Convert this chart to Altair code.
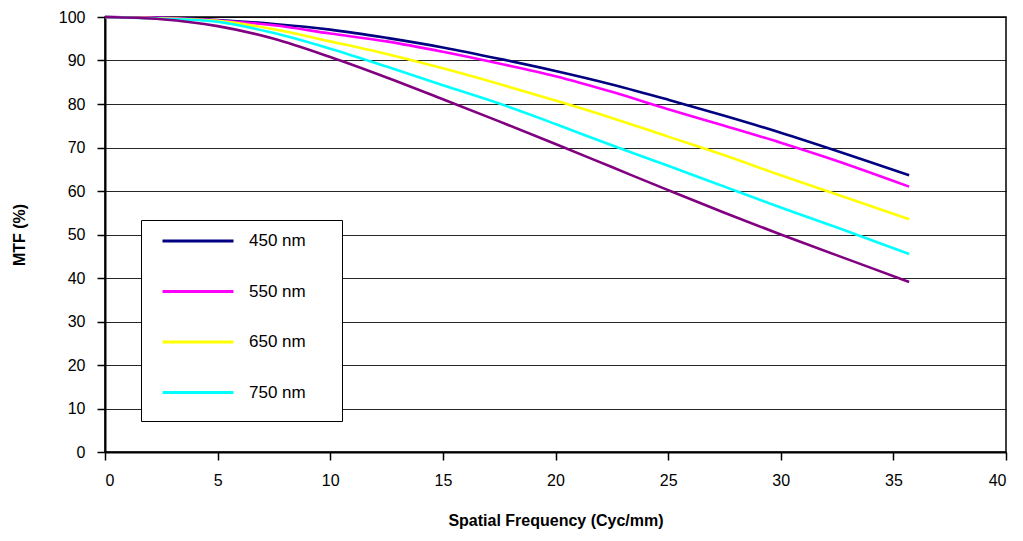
import altair as alt
import pandas as pd

freq = [0, 2.5, 5, 7.5, 10, 12.5, 15, 17.5, 20, 22.5, 25, 27.5, 30, 32.5, 35.7]
mtf_450 = [100, 99.8, 99.3, 98.4, 97.1, 95.2, 93.0, 90.4, 87.6, 84.5, 81.0, 77.3, 73.4, 69.2, 63.6]
mtf_550 = [100, 99.8, 99.2, 98.1, 96.2, 94.4, 92.0, 89.3, 86.4, 82.8, 78.8, 75.0, 71.1, 66.9, 61.0]
mtf_650 = [100, 99.7, 99.1, 97.2, 94.4, 91.5, 88.2, 84.6, 80.8, 76.8, 72.5, 68.2, 63.6, 59.2, 53.5]
mtf_750 = [100, 99.6, 98.9, 96.3, 92.7, 88.6, 84.3, 80.1, 75.4, 70.5, 65.8, 61.0, 56.2, 51.6, 45.5]
mtf_unlabelled = [100, 99.5, 97.9, 95.0, 90.8, 86.1, 81.1, 76.0, 70.8, 65.5, 60.2, 55.0, 50.0, 45.2, 39.1]

series_names = ["450 nm", "550 nm", "650 nm", "750 nm", "unlabelled"]
series_values = [mtf_450, mtf_550, mtf_650, mtf_750, mtf_unlabelled]
series_colors = ["#000080", "#FF00FF", "#FFFF00", "#00FFFF", "#800080"]
legend_labels = series_names[:4]

x_ticks = [0, 5, 10, 15, 20, 25, 30, 35, 40]
y_ticks = [0, 10, 20, 30, 40, 50, 60, 70, 80, 90, 100]

rows = []
for order, (name, vals) in enumerate(zip(series_names, series_values)):
    for f, v in zip(freq, vals):
        rows.append({"series": name, "freq": f, "mtf": v, "order": order})
df = pd.DataFrame(rows)

FONT = "Liberation Sans"
NBSP = "\u00a0"
ZWSP = "\u200b"

chart = alt.Chart(df).mark_line(strokeWidth=2.6, interpolate="catmull-rom").encode(
    x=alt.X("freq:Q",
            scale=alt.Scale(domain=[0, 40], nice=False, zero=False),
            axis=alt.Axis(values=x_ticks, title="Spatial Frequency (Cyc/mm)", grid=False,
                          labelPadding=12, titlePadding=24, tickSize=8)),
    y=alt.Y("mtf:Q",
            scale=alt.Scale(domain=[0, 100], nice=False),
            axis=alt.Axis(values=y_ticks, title="MTF (%)", grid=True,
                          labelPadding=12, titlePadding=31, tickSize=8)),
    color=alt.Color("series:N",
                    scale=alt.Scale(domain=series_names, range=series_colors),
                    sort=series_names,
                    legend=alt.Legend(orient="none", legendX=36, legendY=203,
                                      values=legend_labels,
                                      title=NBSP, titleOrient="bottom", titleFontSize=6,
                                      titlePadding=1,
                                      symbolType="stroke", symbolSize=5041,
                                      symbolStrokeWidth=3, symbolOffset=8,
                                      labelFont=FONT, labelFontSize=17, labelColor="black",
                                      labelOffset=14, clipHeight=18, rowPadding=32.5,
                                      padding=12, strokeColor="black", fillColor="white",
                                      labelExpr="datum.label + '" + NBSP * 5 + ZWSP + "'")),
    order=alt.Order("order:Q"),
).properties(
    width=901, height=435,
    autosize=alt.AutoSizeParams(type="none"),
    padding={"left": 97, "top": 9, "right": 5, "bottom": 86},
).configure_view(
    stroke="black", strokeWidth=1.5,
).configure_axis(
    labelFont=FONT, labelFontSize=16, labelColor="black",
    titleFont=FONT, titleFontSize=16, titleFontWeight="bold", titleColor="black",
    domainColor="black", domainWidth=2, tickColor="black", tickWidth=1.5,
    gridColor="black", gridWidth=1, gridOpacity=0.85,
)

chart.save("out.html", embed_options={"renderer": "svg", "actions": False})
